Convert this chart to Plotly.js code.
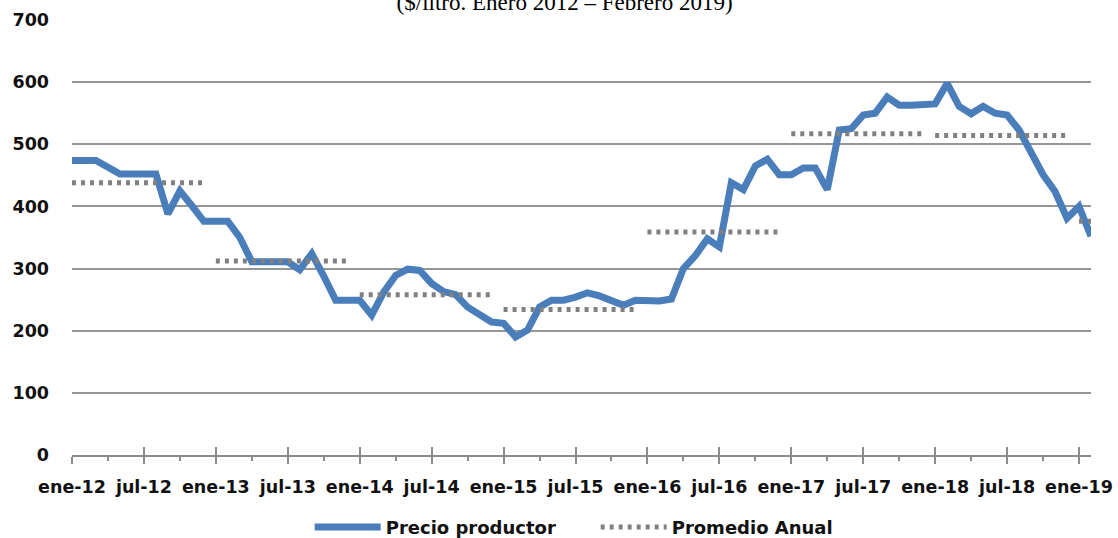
<!DOCTYPE html>
<html>
<head>
<meta charset="utf-8">
<script src="https://cdn.plot.ly/plotly-3.0.1.min.js"></script>
<style>html,body{margin:0;padding:0;background:#fff;}#chart{width:1118px;height:538px;}</style>
</head>
<body>
<div id="chart"></div>
<script>
// Monthly producer price, Jan 2012 .. Feb 2019 ($/litro)
const months = ["ene-12","feb-12","mar-12","abr-12","may-12","jun-12","jul-12","ago-12","sep-12","oct-12","nov-12","dic-12",
"ene-13","feb-13","mar-13","abr-13","may-13","jun-13","jul-13","ago-13","sep-13","oct-13","nov-13","dic-13",
"ene-14","feb-14","mar-14","abr-14","may-14","jun-14","jul-14","ago-14","sep-14","oct-14","nov-14","dic-14",
"ene-15","feb-15","mar-15","abr-15","may-15","jun-15","jul-15","ago-15","sep-15","oct-15","nov-15","dic-15",
"ene-16","feb-16","mar-16","abr-16","may-16","jun-16","jul-16","ago-16","sep-16","oct-16","nov-16","dic-16",
"ene-17","feb-17","mar-17","abr-17","may-17","jun-17","jul-17","ago-17","sep-17","oct-17","nov-17","dic-17",
"ene-18","feb-18","mar-18","abr-18","may-18","jun-18","jul-18","ago-18","sep-18","oct-18","nov-18","dic-18",
"ene-19","feb-19"];
const precioProductor = [474,474,474,463,452,452,452,452,388,425,401,376,
376,376,350,311,311,311,311,298,324,288,249,249,
249,225,262,289,299,297,276,263,258,238,225,214,
212,190,201,238,249,249,254,261,256,249,241,249,
248,248,251,300,321,348,335,438,427,465,476,451,
451,462,462,427,523,525,547,550,576,563,563,563,
565,598,561,549,561,550,547,523,486,451,424,381,
400,352];
const years = ["12","13","14","15","16","17","18","19"];
const promedioAnual = [438,312,258,234,359,517,514,376];
const tickLabels = ["ene-12","jul-12","ene-13","jul-13","ene-14","jul-14","ene-15","jul-15","ene-16","jul-16","ene-17","jul-17","ene-18","jul-18","ene-19"];

const idx = months.map((m,i)=>i);
const tickVals = tickLabels.map(t=>months.indexOf(t));
const minorVals = tickVals.map(v=>v+3).filter(v=>v<months.length);

// annual average: one segment per year, gaps between years
const avgX = [], avgY = [];
years.forEach((yy,k)=>{
  months.forEach((m,i)=>{ if(m.endsWith("-"+yy)){ avgX.push(i); avgY.push(promedioAnual[k]); } });
  avgX.push(null); avgY.push(null);
});

const tickFont = {family:"DejaVu Sans", size:17.5, color:"#111111", weight:"bold"};

const traces = [
  {x: idx, y: precioProductor, type:"scatter", mode:"lines", name:"Precio productor",
   line:{color:"#4a7ebb", width:7, shape:"linear"}, connectgaps:false},
  {x: avgX, y: avgY, type:"scatter", mode:"lines", name:"Promedio Anual",
   line:{color:"#808080", width:5, dash:"4px,5px"}, connectgaps:false},
  {x:[0], y:[null], xaxis:"x2", type:"scatter", mode:"lines", showlegend:false, hoverinfo:"skip"}
];

const layout = {
  width:1118, height:538,
  margin:{l:72, r:27, t:20, b:83},
  paper_bgcolor:"#ffffff", plot_bgcolor:"#ffffff",
  title:{text:"($/litro. Enero 2012 – Febrero 2019)", font:{family:"Liberation Serif", size:23, color:"#000"},
         xref:"container", x:0.505, xanchor:"center", yref:"container", y:0.981, yanchor:"bottom"},
  showlegend:true,
  legend:{orientation:"h", xref:"container", x:0.277, xanchor:"left", yref:"container", y:0.02, yanchor:"middle",
          font:{family:"DejaVu Sans", size:18, color:"#111111", weight:"bold"}, itemwidth:66,
          entrywidth:205, entrywidthmode:"pixels", traceorder:"normal"},
  xaxis:{range:[0, months.length-1], tickmode:"array", tickvals:tickVals, ticktext:tickLabels,
         showgrid:false, zeroline:false, showline:true, linecolor:"#8c8c8c", linewidth:2,
         ticks:"outside", ticklen:7, tickwidth:2, tickcolor:"#8c8c8c", tickfont:tickFont, ticklabelstandoff:8,
         minor:{tickmode:"array", tickvals:minorVals, ticks:"outside", ticklen:4, tickwidth:2, tickcolor:"#8c8c8c", showgrid:false}},
  xaxis2:{overlaying:"x", matches:"x", anchor:"y", side:"bottom", range:[0, months.length-1], tickmode:"array", tickvals:tickVals,
          showticklabels:false, showgrid:false, zeroline:false, showline:false,
          ticks:"inside", ticklen:8, tickwidth:2, tickcolor:"#8c8c8c"},
  yaxis:{range:[0,700], dtick:100, tick0:0, showgrid:true, gridcolor:"#969696", gridwidth:2,
         zeroline:false, showline:false, ticks:"", tickfont:tickFont, ticklabelstandoff:22}
};

Plotly.newPlot("chart", traces, layout, {staticPlot:true, displayModeBar:false});
</script>
</body>
</html>
